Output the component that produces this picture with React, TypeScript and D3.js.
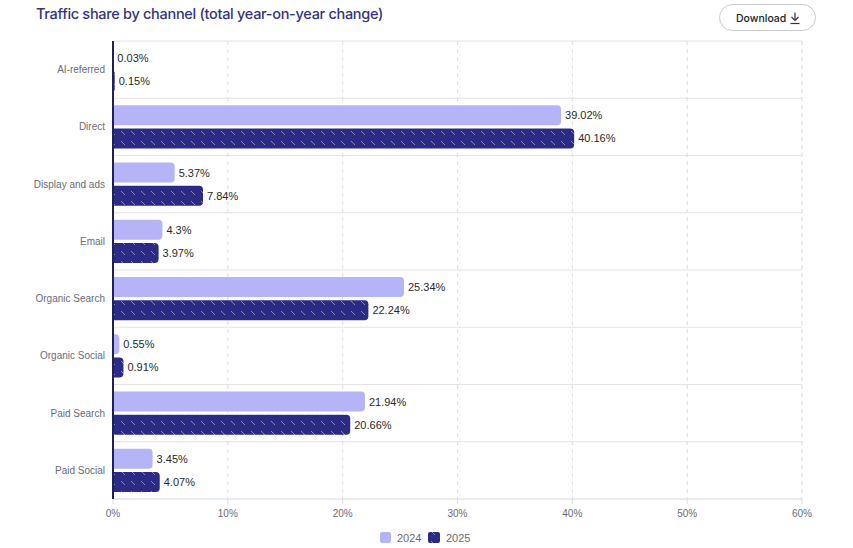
import React from "react";
import * as d3 from "d3";

const categories = ["AI-referred", "Direct", "Display and ads", "Email", "Organic Search", "Organic Social", "Paid Search", "Paid Social"];
const series2024 = [0.03, 39.02, 5.37, 4.3, 25.34, 0.55, 21.94, 3.45];
const series2025 = [0.15, 40.16, 7.84, 3.97, 22.24, 0.91, 20.66, 4.07];
const xTicks = [0, 10, 20, 30, 40, 50, 60];
const years = ["2024", "2025"];

const W = 853, H = 548;
const left = 113, right = 802, top = 41, bottom = 499;
const LIGHT = "#b4b4f7";
const DARK = "#2b2b85";
const SANS = "'Liberation Sans', Arial, sans-serif";

function barPath(x0: number, y: number, w: number, h: number, r: number) {
  const rr = Math.min(r, w, h / 2);
  return `M${x0},${y}H${x0 + w - rr}Q${x0 + w},${y} ${x0 + w},${y + rr}V${y + h - rr}Q${x0 + w},${y + h} ${x0 + w - rr},${y + h}H${x0}Z`;
}

export default function App() {
  const x = d3.scaleLinear().domain([0, 60]).range([left, right]);
  const y = d3.scaleBand<string>().domain(categories).range([top, bottom]);
  const inner = d3.scaleBand<string>().domain(years).range([7, y.bandwidth() - 7]).paddingInner(0.13);
  const fmt = (v: number) => `${v}%`;
  const data = [series2024, series2025];
  return (
    <svg width={W} height={H} style={{ position: "absolute", left: 0, top: 0, fontFamily: SANS }}>
      <defs>
        <pattern id="hatch" width="10" height="10" patternUnits="userSpaceOnUse">
          <rect width="10" height="10" fill={DARK} />
          <line x1="1" y1="1" x2="5" y2="5" stroke="#ffffff" strokeOpacity="0.55" strokeWidth="0.8" />
        </pattern>
      </defs>
      <rect width={W} height={H} fill="#fff" />
      <text x={36} y={19} fontSize={14.5} letterSpacing={-0.3} fill="#34347a" fontWeight={500} fontFamily="Inter, sans-serif">Traffic share by channel (total year-on-year change)</text>
      <rect x={719.5} y={4.5} width={96} height={26} rx={13} fill="#fff" stroke="#c9c9d4" />
      <text x={736} y={21.5} fontSize={10.5} fill="#222" fontWeight={500} fontFamily="Inter, sans-serif">Download</text>
      <g stroke="#333" strokeWidth={1.2} fill="none">
        <line x1={795} y1={12.5} x2={795} y2={20} />
        <polyline points="791.5,17 795,20.5 798.5,17" />
        <line x1={790.5} y1={23.5} x2={799.5} y2={23.5} />
      </g>
      {categories.map((c) => (
        <line key={"h" + c} x1={left} x2={right} y1={(y(c) as number)} y2={(y(c) as number)} stroke="#e3e3e8" />
      ))}
      {xTicks.map((t) => (
        <g key={"t" + t}>
          {t > 0 && <line x1={x(t)} x2={x(t)} y1={top} y2={bottom} stroke="#dcdce2" strokeDasharray="4 4" />}
          <line x1={x(t)} x2={x(t)} y1={bottom} y2={bottom + 5} stroke="#dcdce2" />
          <text x={x(t)} y={517} fontSize={10} fill="#6b6b7a" textAnchor="middle">{t}%</text>
        </g>
      ))}
      <line x1={left} x2={right} y1={bottom} y2={bottom} stroke="#d6d6dc" />
      {categories.map((c, i) => (
        <g key={c}>
          <text x={105} y={(y(c) as number) + y.bandwidth() / 2 + 3.5} fontSize={10} fill="#6b6b7a" textAnchor="end">{c}</text>
          {years.map((yr, k) => {
            const v = data[k][i];
            const by = (y(c) as number) + (inner(yr) as number);
            const bh = inner.bandwidth();
            const w = x(v) - x(0);
            return (
              <g key={yr}>
                <path d={barPath(x(0), by, Math.max(w, 0.6), bh, 4)} fill={k === 0 ? LIGHT : "url(#hatch)"} />
                <text x={x(v) + 4} y={by + bh / 2 + 4} fontSize={11} fill="#2a2a2a">{fmt(v)}</text>
              </g>
            );
          })}
        </g>
      ))}
      <line x1={left} x2={left} y1={top} y2={bottom} stroke="#1f1f5c" strokeWidth={2} />
      <rect x={380} y={532} width={11} height={11} rx={2} fill={LIGHT} />
      <text x={397} y={542} fontSize={11} fill="#6b6b7a">2024</text>
      <rect x={428} y={532} width={12} height={11} rx={2} fill="url(#hatch)" />
      <text x={446} y={542} fontSize={11} fill="#6b6b7a">2025</text>
    </svg>
  );
}
